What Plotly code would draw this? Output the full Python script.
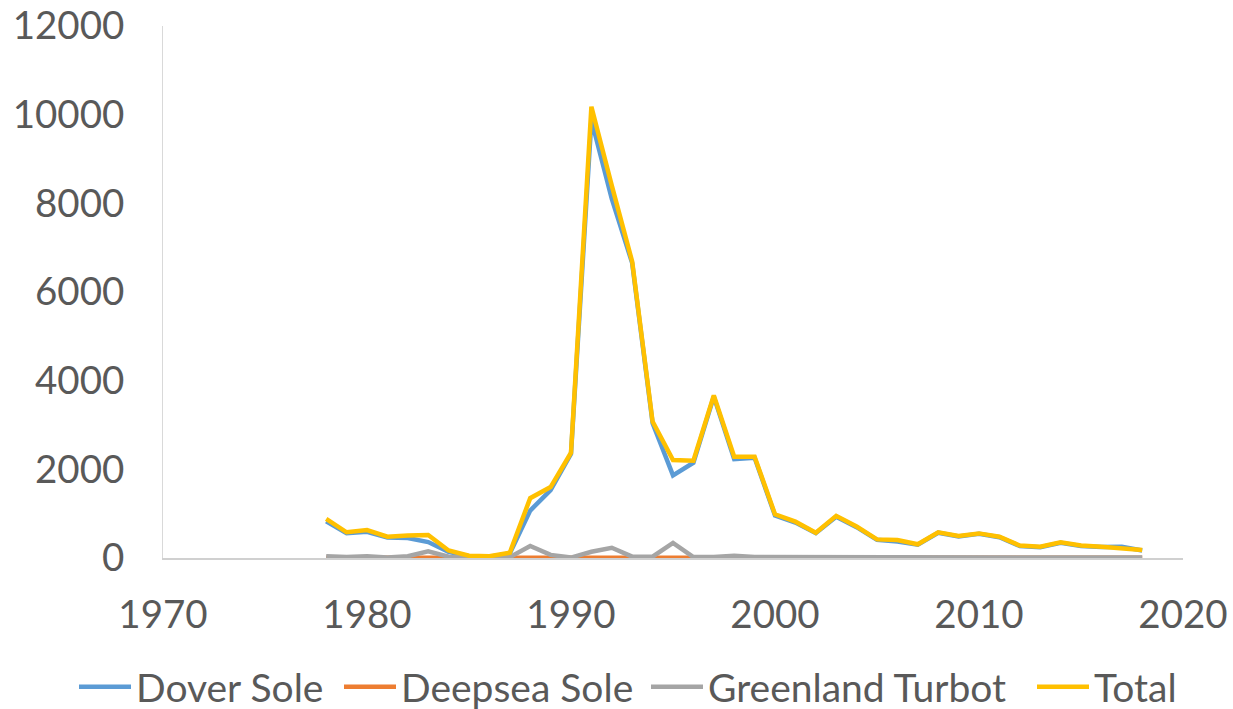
import plotly.graph_objects as go

years = list(range(1978, 2019))

dover_sole = [830, 560, 590, 460, 450, 360, 140, 40, 30, 100,
              1070, 1530, 2350, 9880, 8100, 6650, 3040, 1865, 2150, 3640,
              2230, 2260, 960, 800, 560, 930, 695, 410, 370, 300,
              570, 485, 545, 470, 270, 245, 345, 270, 250, 255, 170]

deepsea_sole = [5, 5, 5, 10, 20, 15, 15, 10, 10, 5,
                5, 5, 10, 10, 10, 5, 5, 5, 5, 5,
                5, 5, 5, 5, 5, 5, 5, 5, 10, 5,
                5, 5, 5, 5, 5, 5, 5, 5, 5, 5, 5]

greenland_turbot = [40, 20, 40, 10, 40, 150, 30, 10, 10, 20,
                    270, 70, 10, 140, 230, 30, 30, 340, 20, 20,
                    50, 20, 20, 20, 10, 20, 15, 10, 30, 10,
                    10, 10, 10, 10, 10, 10, 10, 10, 10, 10, 10]

total = [880, 580, 630, 480, 510, 520, 170, 50, 40, 120,
         1350, 1600, 2375, 10180, 8400, 6685, 3075, 2210, 2195, 3665,
         2285, 2285, 985, 820, 570, 950, 710, 420, 405, 310,
         580, 495, 555, 480, 280, 255, 355, 280, 255, 220, 180]

series = [
    ("Dover Sole", dover_sole, "#5B9BD5"),
    ("Deepsea Sole", deepsea_sole, "#ED7D31"),
    ("Greenland Turbot", greenland_turbot, "#A5A5A5"),
    ("Total", total, "#FFC000"),
]

FONT = "Lato, 'Liberation Sans', Arial, sans-serif"
TXT = "#595959"

# plot area in figure px (page body margin removed below)
L, R, T, B = 163, 50, 26, 151
W, H = 1233, 709
plot_w = W - L - R

legend_left_px = [82, 347, 654, 1040]  # figure px where each legend entry starts
legend_ids = ["legend", "legend2", "legend3", "legend4"]

fig = go.Figure()
for (name, vals, color), lid in zip(series, legend_ids):
    fig.add_trace(go.Scatter(x=years, y=vals, mode="lines", name=name, legend=lid,
                             line=dict(color=color, width=4.5)))

legend_common = dict(orientation="h", xanchor="left", y=-0.2425, yanchor="middle",
                     font=dict(size=39, color=TXT), itemwidth=52,
                     bgcolor="rgba(0,0,0,0)", borderwidth=0)
layout_legends = {}
for lid, px in zip(legend_ids, legend_left_px):
    layout_legends[lid] = dict(legend_common, x=(px - L - 8) / plot_w)

fig.update_layout(
    width=W, height=H,
    margin=dict(l=L, r=R, t=T, b=B, autoexpand=False),
    paper_bgcolor="white", plot_bgcolor="white",
    font=dict(family=FONT, size=38, color=TXT),
    showlegend=True,
    xaxis=dict(range=[1970, 2020], dtick=10, tick0=1970, showgrid=False, zeroline=False,
               showline=True, linecolor="#D0D0D0", linewidth=1.5, ticks="",
               automargin=False, tickformat="d", ticklabeloverflow="allow",
               ticklabelstandoff=22, tickfont=dict(size=38.5, color=TXT)),
    yaxis=dict(range=[0, 12000], dtick=2000, showgrid=False, zeroline=False,
               showline=True, linecolor="#D9D9D9", linewidth=1, ticks="",
               automargin=False, tickformat="d", ticklabeloverflow="allow",
               ticklabelstandoff=30, tickfont=dict(size=38.5, color=TXT)),
    **layout_legends,
)

fig.write_html("out.html",
               config={"displayModeBar": False},
               post_script="document.body.style.margin='0';document.body.style.overflow='hidden';")
